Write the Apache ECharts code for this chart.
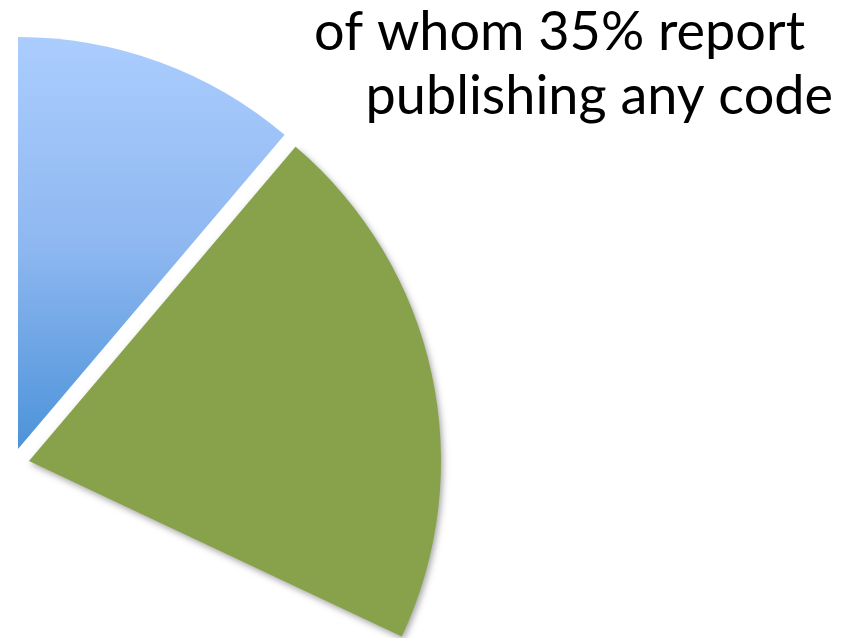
<!DOCTYPE html>
<html>
<head>
<meta charset="utf-8">
<script src="https://cdn.jsdelivr.net/npm/echarts@6/dist/echarts.min.js"></script>
<style>
  html, body { margin: 0; padding: 0; background: #ffffff; }
  #chart { width: 853px; height: 638px; }
</style>
</head>
<body>
<div id="chart"></div>
<script>
// Shares of the whole pie (percent). The first two slices are the
// respondents shown; the remainder is left undrawn.
const categories = ['Publish code', 'Do not publish code', 'Other respondents'];
const shares = [11.2, 20.8, 68.0];

// Caption lines
const captionLines = ['of whom 35% report', 'publishing any code'];

const chart = echarts.init(document.getElementById('chart'), null, { renderer: 'canvas' });

const hidden = { color: 'rgba(0,0,0,0)' };
const blueFill = new echarts.graphic.LinearGradient(0, 0, 0, 1, [
  { offset: 0, color: '#abcdfe' },
  { offset: 0.5, color: '#8fb8f1' },
  { offset: 1, color: '#4c93d9' }
]);

const common = {
  type: 'pie',
  radius: 412,
  startAngle: 90,
  clockwise: true,
  silent: true,
  label: { show: false },
  labelLine: { show: false },
  emphasis: { disabled: true },
  animation: false
};

chart.setOption({
  backgroundColor: '#ffffff',
  series: [
    Object.assign({}, common, {
      name: 'publishing',
      center: [18, 449],
      data: [
        { name: categories[0], value: shares[0], itemStyle: { color: blueFill } },
        { name: 'rest', value: shares[1] + shares[2], itemStyle: hidden }
      ]
    }),
    Object.assign({}, common, {
      name: 'not publishing',
      center: [29, 461],
      data: [
        { name: 'before', value: shares[0], itemStyle: hidden },
        {
          name: categories[1], value: shares[1],
          itemStyle: {
            color: '#88a24c',
            shadowBlur: 6,
            shadowColor: 'rgba(0,0,0,0.35)',
            shadowOffsetX: 2,
            shadowOffsetY: 3
          }
        },
        { name: categories[2], value: shares[2], itemStyle: hidden }
      ]
    })
  ],
  graphic: [
    {
      type: 'text', right: 48, top: 6,
      style: {
        text: captionLines[0],
        font: '54px Lato',
        fill: '#000000'
      }
    },
    {
      type: 'text', right: 20, top: 70,
      style: {
        text: captionLines[1],
        font: '54px Lato',
        fill: '#000000'
      }
    }
  ]
});
</script>
</body>
</html>
